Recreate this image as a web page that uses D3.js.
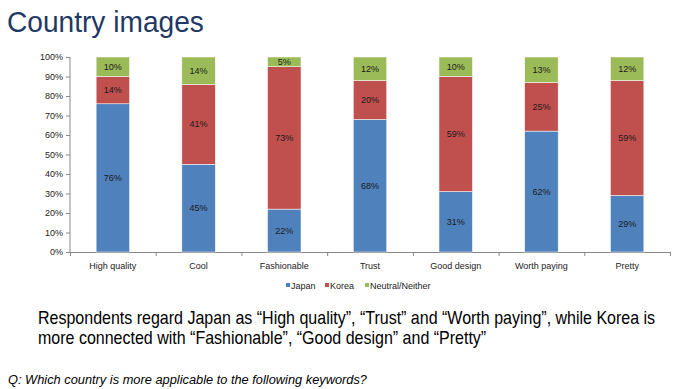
<!doctype html>
<html lang="en">
<head>
<meta charset="utf-8" />
<title>Country images</title>
<script src="https://d3js.org/d3.v7.min.js"></script>
<style>
  body { margin: 0; background: #fff; }
  text { font-family: "Liberation Sans", Arial, sans-serif; }
</style>
</head>
<body>
<svg></svg>
<script>
const categories = ["High quality", "Cool", "Fashionable", "Trust", "Good design", "Worth paying", "Pretty"];
const japan   = [76, 45, 22, 68, 31, 62, 29];
const korea   = [14, 41, 73, 20, 59, 25, 59];
const neutral = [10, 14, 5, 12, 10, 13, 12];
const seriesNames = ["Japan", "Korea", "Neutral/Neither"];
const colors = ["#4f81bd", "#c0504d", "#9bbb59"];
const yTicks = [0, 10, 20, 30, 40, 50, 60, 70, 80, 90, 100];

let width = 684, height = 389;

const svg = d3.select("svg")
    .attr("width", width)
    .attr("height", height);

// title (slightly narrow, like the slide font)
svg.append("text")
    .attr("transform", "translate(7,32) scale(0.97,1)")
    .attr("font-size", 29)
    .attr("fill", "#1f3864")
    .text("Country images");

const rows = categories.map((c, i) => ({cat: c, Japan: japan[i], Korea: korea[i], "Neutral/Neither": neutral[i]}));
const stack = d3.stack().keys(seriesNames)(rows);

let x = d3.scaleBand()
    .domain(categories)
    .range([70, 670])
    .paddingInner(0.61)
    .paddingOuter(0.305);

let y = d3.scaleLinear()
    .domain([0, 100])
    .range([252, 57]);

// y axis
const yAxis = svg.append("g")
    .attr("transform", "translate(70,0)")
    .call(d3.axisLeft(y).tickValues(yTicks).tickSize(4).tickFormat(d => d + "%"));
yAxis.select(".domain").attr("stroke", "#888").attr("d", "M0,57V252");
yAxis.selectAll(".tick line").attr("stroke", "#888");
yAxis.selectAll(".tick text").attr("font-size", 9).attr("fill", "#222").attr("x", -7);

// x axis line and separators
const xg = svg.append("g");
xg.append("line")
    .attr("x1", 70).attr("x2", 670)
    .attr("y1", 252.5).attr("y2", 252.5)
    .attr("stroke", "#888");
const step = x.step();
xg.selectAll(".sep")
    .data(d3.range(categories.length + 1))
    .enter().append("line")
    .attr("x1", i => 70 + i * step + 0.5)
    .attr("x2", i => 70 + i * step + 0.5)
    .attr("y1", 252).attr("y2", 256)
    .attr("stroke", "#888");
xg.selectAll(".cat")
    .data(categories)
    .enter().append("text")
    .attr("x", d => x(d) + x.bandwidth() / 2)
    .attr("y", 269)
    .attr("text-anchor", "middle")
    .attr("font-size", 9)
    .attr("fill", "#222")
    .text(d => d);

// bars
const layers = svg.selectAll(".layer")
    .data(stack)
    .enter().append("g")
    .attr("fill", (d, i) => colors[i]);

layers.selectAll("rect")
    .data(d => d)
    .enter().append("rect")
    .attr("x", d => x(d.data.cat))
    .attr("width", x.bandwidth())
    .attr("y", d => y(d[1]))
    .attr("height", d => y(d[0]) - y(d[1]))
    .attr("stroke", "#fff")
    .attr("stroke-width", 0.5);

layers.selectAll("text")
    .data(d => d)
    .enter().append("text")
    .attr("x", d => x(d.data.cat) + x.bandwidth() / 2)
    .attr("y", d => y((d[0] + d[1]) / 2) + 3)
    .attr("text-anchor", "middle")
    .attr("font-size", 9)
    .attr("fill", "#1a1a1a")
    .text(d => (d[1] - d[0]) + "%");

// legend
const legendX = [286, 325, 365];
const lg = svg.selectAll(".lg")
    .data(seriesNames)
    .enter().append("g")
    .attr("transform", (d, i) => `translate(${legendX[i]},289)`);
lg.append("rect")
    .attr("x", 0).attr("y", -6)
    .attr("width", 4).attr("height", 4)
    .attr("fill", (d, i) => colors[i]);
lg.append("text")
    .attr("x", 5).attr("y", 0)
    .attr("font-size", 9)
    .attr("fill", "#222")
    .text(d => d);

// commentary
const note = svg.append("g")
    .attr("transform", "translate(38,0) scale(0.89,1)")
    .append("text")
    .attr("font-size", 18)
    .attr("fill", "#000");
note.append("tspan").attr("x", 0).attr("y", 324)
    .text("Respondents regard Japan as \u201cHigh quality\u201d, \u201cTrust\u201d and \u201cWorth paying\u201d, while Korea is");
note.append("tspan").attr("x", 0).attr("y", 344)
    .text("more connected with \u201cFashionable\u201d, \u201cGood design\u201d and \u201cPretty\u201d");

svg.append("text")
    .attr("transform", "translate(8,384) scale(0.95,1)")
    .attr("font-size", 13.5)
    .attr("font-style", "italic")
    .attr("fill", "#000")
    .text("Q: Which country is more applicable to the following keywords?");
</script>
</body>
</html>
